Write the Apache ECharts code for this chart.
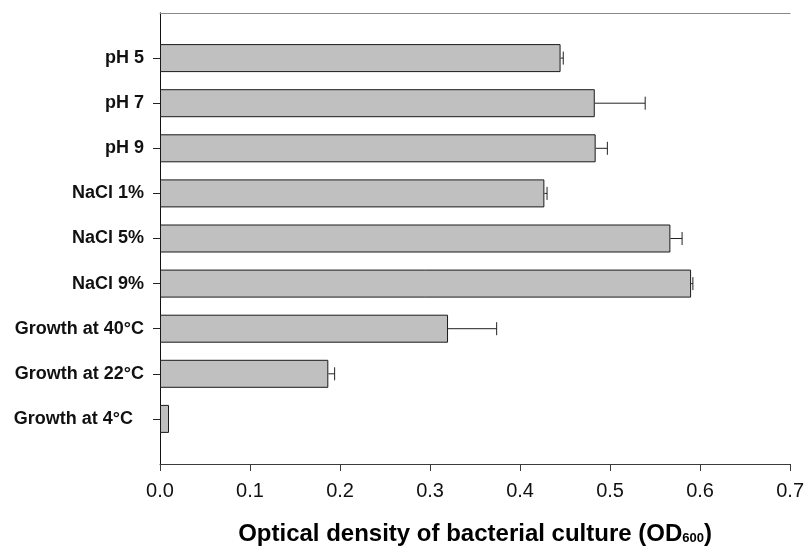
<!DOCTYPE html>
<html>
<head>
<meta charset="utf-8">
<script src="https://cdn.jsdelivr.net/npm/echarts@6/dist/echarts.min.js"></script>
<style>
html,body{margin:0;padding:0;background:#fff;}
#chart{width:807px;height:551px;}
</style>
</head>
<body>
<div id="chart"></div>
<script>
// Data
const categories = ['pH 5', 'pH 7', 'pH 9', 'NaCl 1%', 'NaCl 5%', 'NaCl 9%', 'Growth at 40°C', 'Growth at 22°C', 'Growth at 4°C'];
const values = [0.445, 0.483, 0.484, 0.427, 0.567, 0.590, 0.320, 0.187, 0.010];
const errors = [0.003, 0.056, 0.013, 0.003, 0.013, 0.002, 0.054, 0.007, 0.000];
const xTicks = ['0.0', '0.1', '0.2', '0.3', '0.4', '0.5', '0.6', '0.7'];

const yData = [''].concat(categories, ['']);
const barData = ['-'].concat(values, ['-']);
const errData = values.map((v, i) => [v, i + 1, errors[i]]);

const chart = echarts.init(document.getElementById('chart'), null, {renderer: 'canvas'});
const font = 'Liberation Sans, Arial, sans-serif';

chart.setOption({
  animation: false,
  backgroundColor: '#ffffff',
  grid: {left: 160, right: 15, top: 13, bottom: 83, containLabel: false},
  xAxis: [{
    type: 'value', position: 'bottom', min: 0, max: 0.7, interval: 0.1,
    splitLine: {show: false},
    axisLine: {show: true, lineStyle: {color: '#3a3a3a', width: 1}},
    axisTick: {show: true, length: 7, inside: false, lineStyle: {color: '#3a3a3a'}},
    axisLabel: {
      margin: 17, color: '#111', fontFamily: font, fontSize: 20,
      formatter: (v) => xTicks[Math.round(v * 10)]
    },
    name: 'Optical density of bacterial culture (OD{s|600})',
    nameLocation: 'middle', nameGap: 58,
    nameTextStyle: {
      color: '#000', fontFamily: font, fontSize: 24, fontWeight: 'bold',
      rich: {s: {fontSize: 13, fontWeight: 'bold', fontFamily: font, color: '#000', padding: [8, 0, 0, 0]}}
    }
  }, {
    type: 'value', position: 'top', min: 0, max: 0.7,
    splitLine: {show: false}, axisTick: {show: false}, axisLabel: {show: false},
    axisLine: {show: true, lineStyle: {color: '#888', width: 1}}
  }],
  yAxis: [{
    type: 'category', data: yData, inverse: true, boundaryGap: false,
    axisLine: {show: true, lineStyle: {color: '#888', width: 1}},
    axisTick: {show: true, length: 7, lineStyle: {color: '#222'},
      interval: (idx) => idx > 0 && idx < yData.length - 1},
    axisLabel: {
      margin: 16, color: '#111', fontFamily: font, fontSize: 18, fontWeight: 'bold',
      interval: 0,
      formatter: (v) => v === 'Growth at 4°C' ? '{p|' + v + '}' : v,
      rich: {p: {fontFamily: font, fontSize: 18, fontWeight: 'bold', color: '#111', padding: [0, 11, 0, 0]}}
    },
    splitLine: {show: false}
  }, {
    type: 'category', data: yData, inverse: true, boundaryGap: false, position: 'right',
    axisLine: {show: true, lineStyle: {color: '#111', width: 1}},
    axisTick: {show: false}, axisLabel: {show: false}, splitLine: {show: false}
  }],
  series: [{
    type: 'bar', xAxisIndex: 0, yAxisIndex: 0,
    data: barData, barWidth: 28,
    itemStyle: {color: '#c0c0c0', borderColor: '#1a1a1a', borderWidth: 1},
    z: 2
  }, {
    type: 'custom', xAxisIndex: 0, yAxisIndex: 0,
    encode: {x: 0, y: 1},
    data: errData,
    z: 3,
    renderItem: function (params, api) {
      const v = api.value(0), c = api.value(1), e = api.value(2);
      if (!(e > 0)) return null;
      const p0 = api.coord([v, c]);
      const p1 = api.coord([v + e, c]);
      const st = {stroke: '#222', lineWidth: 1, fill: null};
      return {
        type: 'group',
        children: [
          {type: 'line', shape: {x1: p0[0], y1: p0[1], x2: p1[0], y2: p1[1]}, style: st},
          {type: 'line', shape: {x1: p1[0], y1: p1[1] - 6.5, x2: p1[0], y2: p1[1] + 6.5}, style: st}
        ]
      };
    }
  }]
});
</script>
</body>
</html>
